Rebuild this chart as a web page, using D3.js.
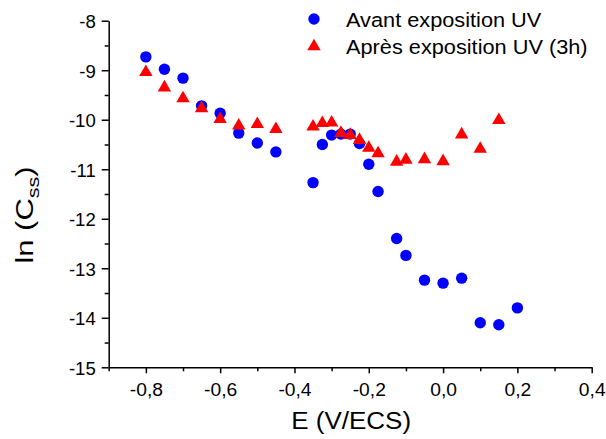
<!DOCTYPE html>
<html>
<head>
<meta charset="utf-8">
<script src="https://cdn.jsdelivr.net/npm/d3@7"></script>
<style>
  html, body { margin: 0; padding: 0; background: #fff; }
  svg { display: block; }
  text { font-family: "Liberation Sans", Arial, Helvetica, sans-serif; fill: #000; }
</style>
</head>
<body>
<svg id="chart" width="606" height="439"></svg>
<script>
// ---- data ----
const seriesNames = ["Avant exposition UV", "Après exposition UV (3h)"];
const avantE = [-0.8, -0.75, -0.7, -0.65, -0.6, -0.55, -0.5, -0.45, -0.35, -0.325, -0.3, -0.275, -0.25, -0.225, -0.2, -0.175, -0.125, -0.1, -0.05, 0.0, 0.05, 0.1, 0.15, 0.2];
const avantLnC = [-8.73, -8.98, -9.16, -9.72, -9.87, -10.27, -10.47, -10.65, -11.27, -10.50, -10.31, -10.29, -10.29, -10.48, -10.90, -11.45, -12.40, -12.74, -13.24, -13.30, -13.20, -14.10, -14.14, -13.80];
const apresE = [-0.8, -0.75, -0.7, -0.65, -0.6, -0.55, -0.5, -0.45, -0.35, -0.325, -0.3, -0.275, -0.25, -0.225, -0.2, -0.175, -0.125, -0.1, -0.05, 0.0, 0.05, 0.1, 0.15];
const apresLnC = [-9.04, -9.35, -9.57, -9.77, -9.99, -10.12, -10.09, -10.19, -10.14, -10.07, -10.06, -10.27, -10.31, -10.41, -10.57, -10.68, -10.85, -10.81, -10.80, -10.84, -10.30, -10.59, -10.01];
const xTicks = [-0.8, -0.6, -0.4, -0.2, 0.0, 0.2, 0.4];
const xTickLabels = ["-0,8", "-0,6", "-0,4", "-0,2", "0,0", "0,2", "0,4"];
const xMinorTicks = [-0.9, -0.7, -0.5, -0.3, -0.1, 0.1, 0.3];
const yTicks = [-8, -9, -10, -11, -12, -13, -14, -15];
const yTickLabels = ["-8", "-9", "-10", "-11", "-12", "-13", "-14", "-15"];
const yMinorTicks = [-8.5, -9.5, -10.5, -11.5, -12.5, -13.5, -14.5];
const xTitle = "E (V/ECS)";

// ---- layout ----
const svg = d3.select("#chart");
const L = 108.7, R = 591.7, T = 20.7, B = 367.3;
const x = d3.scaleLinear().domain([-0.9, 0.4]).range([L, R]);
const y = d3.scaleLinear().domain([-15, -8]).range([B, T]);

function stretch(sel, f) {
  sel.each(function () {
    const w = this.getComputedTextLength();
    this.setAttribute("textLength", (w * f).toFixed(2));
    this.setAttribute("lengthAdjust", "spacingAndGlyphs");
  });
}

// minor ticks
svg.append("g").attr("transform", `translate(0,${B})`)
  .call(d3.axisBottom(x).tickValues(xMinorTicks).tickSize(4).tickFormat(""))
  .call(g => g.select(".domain").remove())
  .call(g => g.selectAll("line").attr("stroke", "#000").attr("stroke-width", 1.5));
svg.append("g").attr("transform", `translate(${L},0)`)
  .call(d3.axisLeft(y).tickValues(yMinorTicks).tickSize(4).tickFormat(""))
  .call(g => g.select(".domain").remove())
  .call(g => g.selectAll("line").attr("stroke", "#000").attr("stroke-width", 1.5));

// major axes
const xAxis = svg.append("g").attr("transform", `translate(0,${B})`)
  .call(d3.axisBottom(x).tickValues(xTicks).tickSizeInner(6).tickSizeOuter(0).tickPadding(5)
    .tickFormat((d, i) => xTickLabels[i]));
const yAxis = svg.append("g").attr("transform", `translate(${L},0)`)
  .call(d3.axisLeft(y).tickValues(yTicks).tickSizeInner(7).tickSizeOuter(0).tickPadding(6)
    .tickFormat((d, i) => yTickLabels[i]));
[xAxis, yAxis].forEach(g => {
  g.select(".domain").attr("stroke", "#000").attr("stroke-width", 1.5);
  g.selectAll(".tick line").attr("stroke", "#000").attr("stroke-width", 1.5);
  g.selectAll(".tick text").attr("font-size", 17.5).attr("fill", "#000")
    .attr("font-family", '"Liberation Sans", Arial, sans-serif');
});
xAxis.selectAll(".tick text").attr("dy", null).attr("y", 29);
yAxis.selectAll(".tick text").attr("dy", "0.4em");
stretch(xAxis.selectAll(".tick text"), 1.1);
stretch(yAxis.selectAll(".tick text"), 1.06);

// axis titles
const xt = svg.append("text").attr("x", (L + R) / 2 + 1).attr("y", 429)
  .attr("text-anchor", "middle").attr("font-size", 23).text(xTitle);
stretch(xt, 1.13);

const yt = svg.append("text")
  .attr("transform", "translate(33,215) rotate(-90)")
  .attr("text-anchor", "middle").attr("font-size", 23);
yt.append("tspan").text("ln (C");
yt.append("tspan").attr("font-size", 16).attr("dy", 6).text("ss");
yt.append("tspan").attr("dy", -6).text(")");
yt.attr("textLength", 97).attr("lengthAdjust", "spacingAndGlyphs");

// markers
const tri = d3.symbol().type(d3.symbolTriangle).size(78);
svg.append("g").selectAll("circle")
  .data(avantE.map((e, i) => [e, avantLnC[i]]))
  .join("circle")
  .attr("cx", d => x(d[0])).attr("cy", d => y(d[1]))
  .attr("r", 5.7).attr("fill", "#0000ff");
svg.append("g").selectAll("path")
  .data(apresE.map((e, i) => [e, apresLnC[i]]))
  .join("path")
  .attr("transform", d => `translate(${x(d[0])},${y(d[1])})`)
  .attr("d", tri).attr("fill", "#ff0000");

// legend
const lg = svg.append("g");
lg.append("circle").attr("cx", 314).attr("cy", 19).attr("r", 5.7).attr("fill", "#0000ff");
lg.append("path").attr("transform", "translate(314,46.5)").attr("d", tri).attr("fill", "#ff0000");
const lt = lg.selectAll("text").data(seriesNames).join("text")
  .attr("x", 346).attr("y", (d, i) => 26.5 + i * 27.4)
  .attr("font-size", 20.5).text(d => d);
stretch(lt, 1.06);
</script>
</body>
</html>
